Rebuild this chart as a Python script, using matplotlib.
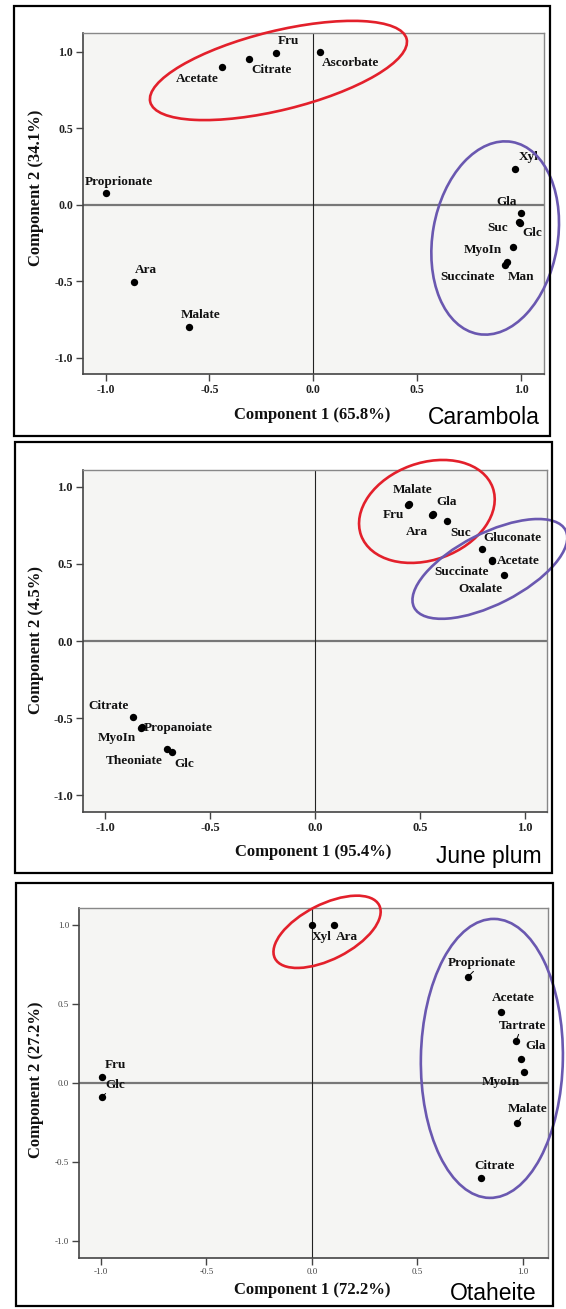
import matplotlib
matplotlib.use("Agg")
import matplotlib.pyplot as plt
from matplotlib.patches import Ellipse, Rectangle
from matplotlib.transforms import ScaledTranslation

# ---------------- data ----------------
car_names = ['Fru', 'Citrate', 'Acetate', 'Ascorbate', 'Proprionate', 'Xyl', 'Gla', 'Suc', 'Glc',
             'MyoIn', 'Succinate', 'Man', 'Ara', 'Malate']
car_x = [-0.18, -0.31, -0.44, 0.03, -1.0, 0.97, 1.0, 0.99, 0.995, 0.96, 0.93, 0.92, -0.865, -0.60]
car_y = [0.99, 0.956, 0.90, 1.0, 0.076, 0.235, -0.054, -0.11, -0.115, -0.274, -0.37, -0.39, -0.503, -0.80]

jp_names = ['Malate', 'Fru', 'Gla', 'Ara', 'Suc', 'Gluconate', 'Acetate', 'Succinate', 'Oxalate',
            'Citrate', 'Propanoiate', 'MyoIn', 'Theoniate', 'Glc']
jp_x = [0.445, 0.44, 0.562, 0.555, 0.626, 0.794, 0.842, 0.84, 0.90, -0.867, -0.824, -0.83, -0.707, -0.684]
jp_y = [0.89, 0.885, 0.825, 0.82, 0.78, 0.60, 0.525, 0.52, 0.43, -0.495, -0.56, -0.565, -0.70, -0.72]

ot_names = ['Xyl', 'Ara', 'Proprionate', 'Acetate', 'Tartrate', 'Gla', 'MyoIn', 'Malate', 'Citrate',
            'Fru', 'Glc']
ot_x = [0.0, 0.104, 0.741, 0.897, 0.968, 0.991, 1.003, 0.974, 0.802, -0.994, -0.994]
ot_y = [1.0, 1.0, 0.675, 0.453, 0.269, 0.152, 0.068, -0.252, -0.605, 0.036, -0.087]

ticks = [-1.0, -0.5, 0.0, 0.5, 1.0]
tick_labels = ['-1.0', '-0.5', '0.0', '0.5', '1.0']

panels = [
    dict(title='Carambola', names=car_names, x=car_x, y=car_y,
         xlabel='Component 1 (65.8%)', ylabel='Component 2 (34.1%)'),
    dict(title='June plum', names=jp_names, x=jp_x, y=jp_y,
         xlabel='Component 1 (95.4%)', ylabel='Component 2 (4.5%)'),
    dict(title='Otaheite', names=ot_names, x=ot_x, y=ot_y,
         xlabel='Component 1 (72.2%)', ylabel='Component 2 (27.2%)'),
]

# ---------------- styling / layout ----------------
W, H = 566, 1309
fig = plt.figure(figsize=(W / 100, H / 100), dpi=100)
fig.patch.set_facecolor('white')

SERIF = ['Liberation Serif', 'DejaVu Serif']
SANS = ['Liberation Sans', 'DejaVu Sans']

# axes boxes in pixels: left, top, right, bottom
ax_px = [(82.7, 33, 544, 374), (82.7, 470, 547, 812), (78.7, 908, 548, 1258)]
xlims = [(-1.11, 1.11), (-1.107, 1.104), (-1.105, 1.119)]
ylims = [(-1.105, 1.124), (-1.11, 1.11), (-1.11, 1.11)]
frames_px = [(14, 6, 550, 436), (15, 442, 552, 873), (16, 883, 553, 1306)]
title_px = [(484, 417), (489, 856), (493, 1293)]
xlabel_px = [(312, 415), (313, 852), (312, 1290)]
ylabel_px = [(36, 188), (36, 640), (36, 1080)]

offsets = [
    {'Fru': (12, 12), 'Citrate': (23, -11), 'Acetate': (-25, -12), 'Ascorbate': (31, -11),
     'Proprionate': (13, 11), 'Xyl': (14, 12), 'Gla': (-15, 11), 'Suc': (-21, -6), 'Glc': (12, -10),
     'MyoIn': (-30, -3), 'Succinate': (-39, -15), 'Man': (16, -12), 'Ara': (12, 12), 'Malate': (12, 12)},
    {'Malate': (4, 14), 'Fru': (-14, -10), 'Gla': (13, 12), 'Ara': (-15, -17), 'Suc': (14, -12),
     'Gluconate': (31, 11), 'Acetate': (26, -1), 'Succinate': (-30, -11), 'Oxalate': (-24, -14),
     'Citrate': (-25, 11), 'Propanoiate': (36, -1), 'MyoIn': (-24, -10), 'Theoniate': (-32, -12),
     'Glc': (13, -12)},
    {'Xyl': (10, -12), 'Ara': (13, -12), 'Proprionate': (14, 14), 'Acetate': (12, 14),
     'Tartrate': (6, 15), 'Gla': (15, 13), 'MyoIn': (-23, -10), 'Malate': (10, 14),
     'Citrate': (13, 12), 'Fru': (13, 12), 'Glc': (13, 12)},
]
leaders = [set(), set(), {'Proprionate', 'Tartrate', 'Malate', 'Glc'}]

# ellipses: center (data), width px, height px, angle deg, colour
RED = '#e3202b'
PURPLE = '#6a58b0'
ellipses = [
    [(-0.168, 0.879, 264, 79, 13.8, RED), (0.875, -0.216, 195, 125, 80, PURPLE)],
    [(0.532, 0.841, 140, 97, 20, RED), (0.832, 0.468, 170, 71, 27, PURPLE)],
    [(0.072, 0.959, 117, 55, 27, RED), (0.853, 0.156, 279, 142, 89, PURPLE)],
]

label_fs = [9.5, 9.5, 9.5]
tick_fs = [8.5, 9, 6.5]

for i, p in enumerate(panels):
    l, t, r, b = ax_px[i]
    ax = fig.add_axes([l / W, 1 - b / H, (r - l) / W, (b - t) / H])
    ax.set_facecolor('#f5f5f3')
    ax.set_xlim(*xlims[i])
    ax.set_ylim(*ylims[i])
    ax.set_xticks(ticks)
    ax.set_yticks(ticks)
    ax.set_xticklabels(tick_labels)
    ax.set_yticklabels(tick_labels)
    bold = 'bold' if i < 2 else 'normal'
    for lab in ax.get_xticklabels() + ax.get_yticklabels():
        lab.set_family(SERIF)
        lab.set_fontsize(tick_fs[i])
        lab.set_fontweight(bold)
        lab.set_color('#222222' if i < 2 else '#444444')
    ax.tick_params(direction='out', length=5, width=1.0, color='#444444', pad=2)
    for s in ['left', 'bottom']:
        ax.spines[s].set_color('#444444')
        ax.spines[s].set_linewidth(1.2)
    for s in ['top', 'right']:
        ax.spines[s].set_color('#888888')
        ax.spines[s].set_linewidth(1.0)
    ax.axhline(0, color='#777777', lw=1.6, zorder=1)
    ax.axvline(0, color='#222222', lw=0.8, zorder=1)

    ax.scatter(p['x'], p['y'], s=28, color='black', zorder=3, linewidths=0)

    for name, xv, yv in zip(p['names'], p['x'], p['y']):
        dx, dy = offsets[i][name]
        kw = {}
        if name in leaders[i]:
            kw['arrowprops'] = dict(arrowstyle='-', lw=0.7, color='black', shrinkA=0, shrinkB=2)
        ax.annotate(name, (xv, yv), xytext=(dx, dy), textcoords='offset pixels',
                    ha='center', va='center', fontsize=label_fs[i], fontweight='bold',
                    family=SERIF, color='#111111', zorder=4, annotation_clip=False, **kw)

    for (cx, cy, w, h, ang, col) in ellipses[i]:
        e = Ellipse((0, 0), w / 100, h / 100, angle=ang, fill=False, edgecolor=col, lw=1.9,
                    transform=fig.dpi_scale_trans + ScaledTranslation(cx, cy, ax.transData))
        fig.add_artist(e)

    fl, ft, fr, fb = frames_px[i]
    fig.add_artist(Rectangle((fl / W, 1 - fb / H), (fr - fl) / W, (fb - ft) / H, fill=False,
                             edgecolor='black', lw=1.6, transform=fig.transFigure))

    tx, ty = title_px[i]
    fig.text(tx / W, 1 - ty / H, p['title'], ha='center', va='center', fontsize=16.5,
             family=SANS, color='black')
    xx, xy = xlabel_px[i]
    fig.text(xx / W, 1 - xy / H, p['xlabel'], ha='center', va='center', fontsize=12,
             fontweight='bold', family=SERIF, color='#111111')
    yx, yy = ylabel_px[i]
    fig.text(yx / W, 1 - yy / H, p['ylabel'], ha='center', va='center', fontsize=12,
             fontweight='bold', family=SERIF, color='#111111', rotation=90)

fig.savefig('out.png', dpi=100)
